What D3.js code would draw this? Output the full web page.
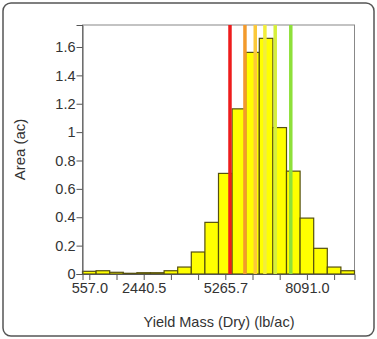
<!DOCTYPE html>
<html>
<head>
<meta charset="utf-8">
<script src="https://cdn.jsdelivr.net/npm/d3@7"></script>
<style>
  body { margin: 0; background: #fff; }
  text { font-family: "Liberation Sans", Arial, sans-serif; fill: #333; }
</style>
</head>
<body>
<svg id="chart" width="377" height="339"></svg>
<script>
// histogram bins: centre of first bin and bin width (lb/ac)
const firstCenter = 557.0;
const binWidth = 470.875;
const areas = [0.019, 0.023, 0.012, 0.005, 0.009, 0.009, 0.023, 0.049, 0.155, 0.364,
  0.709, 1.164, 1.562, 1.661, 1.032, 0.725, 0.394, 0.181, 0.049, 0.023];
const tickValues = [557.0, 1498.75, 2440.5, 3382.25, 4324.0, 5265.75, 6207.5, 7149.25, 8091.0, 9032.75];
const tickLabels = ["557.0", "", "2440.5", "", "", "5265.7", "", "", "8091.0", ""];
const yTicks = [0, 0.2, 0.4, 0.6, 0.8, 1, 1.2, 1.4, 1.6];
const breakValues = [5428, 5946, 6302, 6637, 6994, 7533];
const breakColors = ["#ee1c1c", "#f39a2c", "#fbc93a", "#f2ee3c", "#d6ef3c", "#8ee03a"];

const margin = { left: 82.5, right: 22.5, top: 25, bottom: 65 };
const width = 377, height = 339;

const svg = d3.select("#chart");

svg.append("rect")
  .attr("x", 3).attr("y", 3)
  .attr("width", width - 6).attr("height", height - 6)
  .attr("rx", 8)
  .attr("fill", "#fff")
  .attr("stroke", "#555")
  .attr("stroke-width", 1.5);

const x = d3.scaleLinear()
  .domain([firstCenter - binWidth / 2, firstCenter - binWidth / 2 + binWidth * areas.length])
  .range([margin.left, width - margin.right]);
const y = d3.scaleLinear()
  .domain([0, 1.755])
  .range([height - margin.bottom, margin.top]);

// plot frame
svg.append("rect")
  .attr("x", x.range()[0]).attr("y", y.range()[1])
  .attr("width", x.range()[1] - x.range()[0])
  .attr("height", y.range()[0] - y.range()[1])
  .attr("fill", "none")
  .attr("stroke", "#888")
  .attr("stroke-width", 1);

svg.append("g")
  .selectAll("rect")
  .data(areas)
  .join("rect")
  .attr("x", (d, i) => x(firstCenter - binWidth / 2 + i * binWidth))
  .attr("width", x(binWidth) - x(0))
  .attr("y", d => y(d))
  .attr("height", d => y(0) - y(d))
  .attr("fill", "#ffff00")
  .attr("stroke", "#55500f")
  .attr("stroke-width", 1.2);

svg.append("g")
  .selectAll("line")
  .data(breakValues)
  .join("line")
  .attr("x1", d => x(d)).attr("x2", d => x(d))
  .attr("y1", y.range()[1]).attr("y2", y(0))
  .attr("stroke", (d, i) => breakColors[i])
  .attr("stroke-width", 3.5);

const xAxis = svg.append("g")
  .attr("transform", `translate(0,${y(0)})`)
  .call(d3.axisBottom(x).tickValues(tickValues).tickSize(6).tickPadding(3)
    .tickFormat((d, i) => tickLabels[i]));
xAxis.select(".domain").attr("stroke", "#555");
xAxis.selectAll(".tick line").attr("stroke", "#555");
xAxis.selectAll("text").attr("font-size", 14.5).attr("fill", "#333");

const yAxis = svg.append("g")
  .attr("transform", `translate(${x.range()[0]},0)`)
  .call(d3.axisLeft(y).tickValues(yTicks).tickSize(6).tickPadding(1)
    .tickFormat(d3.format("~g")));
yAxis.select(".domain").attr("stroke", "#555");
yAxis.selectAll(".tick line").attr("stroke", "#555");
yAxis.selectAll("text").attr("font-size", 14.5).attr("fill", "#333");

svg.append("text")
  .attr("x", 219).attr("y", 327)
  .attr("text-anchor", "middle")
  .attr("font-size", 14.5)
  .text("Yield Mass (Dry) (lb/ac)");

svg.append("text")
  .attr("transform", `translate(25,${(y.range()[0] + y.range()[1]) / 2}) rotate(-90)`)
  .attr("text-anchor", "middle")
  .attr("font-size", 15)
  .text("Area (ac)");
</script>
</body>
</html>
